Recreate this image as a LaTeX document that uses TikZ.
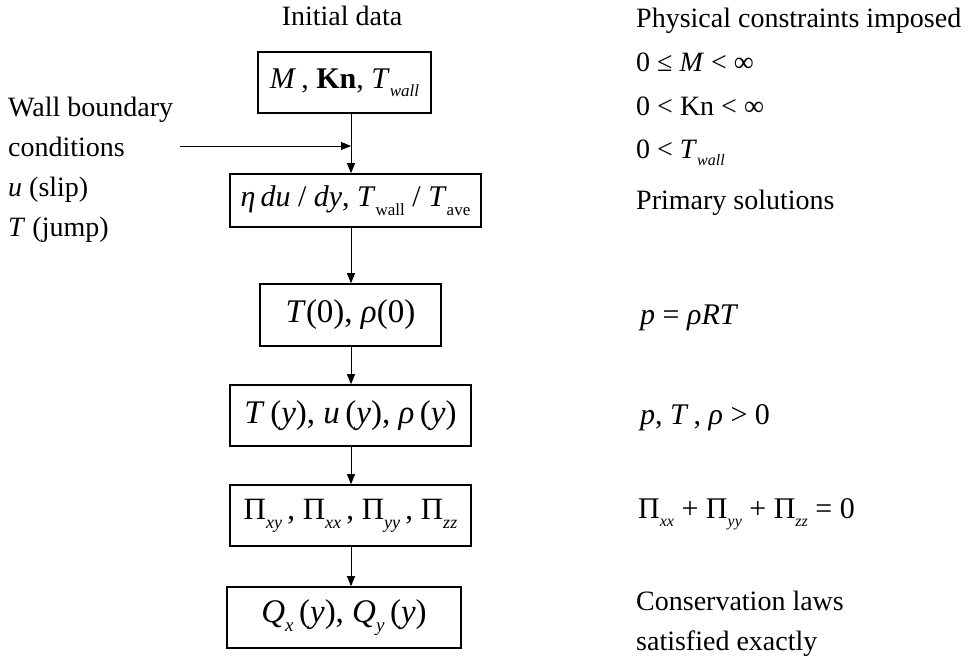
\documentclass[tikz,border=0pt]{standalone}
\usepackage{fontspec}
\setmainfont{Liberation Serif}
\usetikzlibrary{arrows.meta}
\newcommand\mi[1]{\textit{#1}}
\newcommand\mysub[2][17]{\raisebox{-0.28em}{\fontsize{#1}{#1}\selectfont #2}}
\begin{document}
\begin{tikzpicture}[x=1pt,y=-1pt,
  box/.style={draw,line width=1.6pt,inner sep=0pt,font=\fontsize{30}{30}\selectfont},
  bigbox/.style={box,font=\fontsize{33}{33}\selectfont},
  lbl/.style={inner sep=0pt,anchor=base west,font=\fontsize{28}{28}\selectfont},
  mlbl/.style={lbl,font=\fontsize{30}{30}\selectfont},
  flow/.style={line width=0.8pt,-{Triangle[length=10pt,width=8pt]}}]
\useasboundingbox (0,0) rectangle (974,659);
% boxes
\node[box,minimum width=173pt,minimum height=61pt] (b1) at (344.5,82.5)
  {\mi{M}\,, \textbf{Kn}, \mi{T}\mysub{\mi{wall}}};
\node[box,minimum width=251pt,minimum height=53pt] (b2) at (355.5,200.5)
  {\mi{η}\,\mi{du} / \mi{dy}, \mi{T}\mysub{wall} / \mi{T}\mysub{ave}};
\node[bigbox,minimum width=181pt,minimum height=62pt] (b3) at (350.5,315)
  {\mi{T}(0), \mi{ρ}(0)};
\node[bigbox,minimum width=241pt,minimum height=61pt] (b4) at (350.5,415.5)
  {\mi{T}\,(\mi{y}), \mi{u}\,(\mi{y}), \mi{ρ}\,(\mi{y})};
\node[box,font=\fontsize{31}{31}\selectfont,minimum width=241pt,minimum height=61pt] (b5) at (350.5,515.5)
  {Π\mysub[18]{\mi{xy}}\,, Π\mysub[18]{\mi{xx}}\,, Π\mysub[18]{\mi{yy}}\,, Π\mysub[18]{\mi{zz}}};
\node[bigbox,minimum width=234pt,minimum height=61pt] (b6) at (344,617.5)
  {\mi{Q}\mysub[19]{\mi{x}}\,(\mi{y}), \mi{Q}\mysub[19]{\mi{y}}\,(\mi{y})};
% connectors
\coordinate (ax) at (351,0);
\coordinate (wb) at (180,146);
\coordinate (wbe) at (351,146);
\draw[flow] (b1.south -| ax) -- (b2.north -| ax);
\draw[flow] (b2.south -| ax) -- (b3.north -| ax);
\draw[flow] (b3.south -| ax) -- (b4.north -| ax);
\draw[flow] (b4.south -| ax) -- (b5.north -| ax);
\draw[flow] (b5.south -| ax) -- (b6.north -| ax);
\draw[flow] (wb) -- (wbe);
% headings
\node[lbl,anchor=base] (hinit) at (342,25) {Initial data};
\node[lbl] (hphys) at (636,27) {Physical constraints imposed};
% left labels
\node[lbl] (l1) at (8,116) {Wall boundary};
\node[lbl] (l2) at (8,156) {conditions};
\node[lbl] (l3) at (8,196) {\mi{u} (slip)};
\node[lbl] (l4) at (8,236) {\mi{T} (jump)};
% right labels
\node[lbl] (r1) at (636,71) {0 ≤ \mi{M} < ∞};
\node[lbl] (r2) at (636,115) {0 < Kn < ∞};
\node[lbl] (r3) at (636,158) {0 < \mi{T}\mysub[16]{\mi{wall}}};
\node[lbl] (r4) at (636,209) {Primary solutions};
\node[mlbl] (r5) at (640,324) {\mi{p} = \mi{ρRT}};
\node[mlbl] (r6) at (640,424) {\mi{p}, \mi{T}\,, \mi{ρ} > 0};
\node[mlbl] (r7) at (638,518) {Π\mysub[16]{\mi{xx}} + Π\mysub[16]{\mi{yy}} + Π\mysub[16]{\mi{zz}} = 0};
\node[lbl] (r8) at (636,610) {Conservation laws};
\node[lbl] (r9) at (636,650) {satisfied exactly};
\end{tikzpicture}
\end{document}
